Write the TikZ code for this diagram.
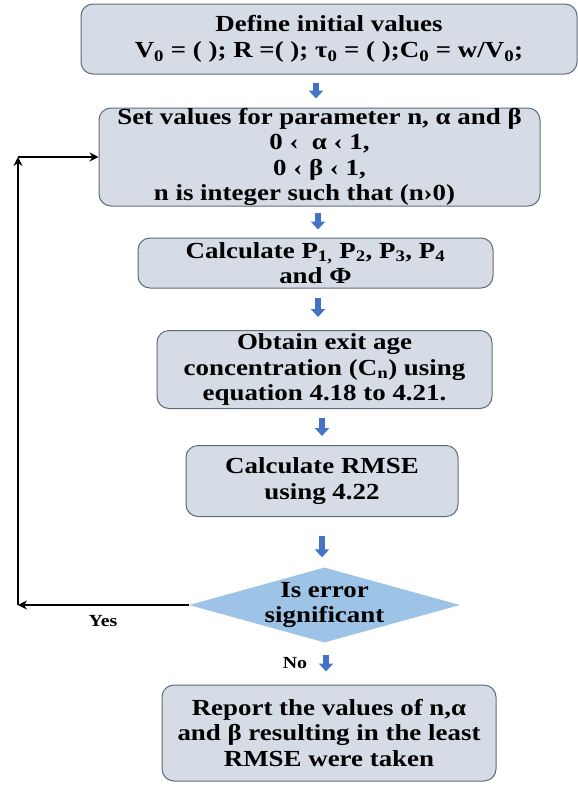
\documentclass[tikz,border=0pt]{standalone}
\usepackage{fontspec}
\setmainfont{Liberation Serif}[FakeStretch=1.17]
\usetikzlibrary{shapes.geometric,arrows.meta,calc}
\definecolor{boxfill}{HTML}{D6DCE5}
\definecolor{boxline}{HTML}{5F6B7A}
\definecolor{dfill}{HTML}{9DC3E6}
\definecolor{barrow}{HTML}{4472C4}
\newcommand{\sbs}[1]{\textsubscript{#1}}
\begin{document}
\begin{tikzpicture}[x=1pt,y=-1pt,
  box/.style={draw=boxline, fill=boxfill, rounded corners=12pt, line width=1pt, align=center, inner sep=0pt, font=\bfseries\fontsize{23}{25.5}\selectfont},
  txt/.style={align=center, inner sep=0pt, font=\bfseries\fontsize{23}{25.5}\selectfont},
  lbl/.style={inner sep=0pt, font=\bfseries\fontsize{17}{19}\selectfont},
  blk/.style={draw=barrow, line width=5.5pt, -{Triangle[width=14pt,length=8pt]}},
  loopline/.style={line width=2.6pt, -{Stealth[length=9pt,width=9pt]}},
]
\useasboundingbox (0,0) rectangle (578,788);
\node[box, minimum width=496pt, minimum height=70pt] (b1) at (329,39)
  {Define initial values\\V\sbs{0} = ( ); R =( ); τ\sbs{0} = ( );C\sbs{0} = w/V\sbs{0};};
\node[box, minimum width=441pt, minimum height=98pt] (b2) at (319.5,157)
  {Set values for parameter n, α and β\\0 ‹~~α~‹ 1,\\0 ‹ β ‹ 1,\\n is integer such that (n›0)\hspace*{30pt}};
\node[box, minimum width=355pt, minimum height=50pt] (b3) at (315.5,263)
  {Calculate P\sbs{1,} P\sbs{2}, P\sbs{3}, P\sbs{4}\\and Φ};
\node[box, minimum width=335pt, minimum height=78pt] (b4) at (324.5,369.5)
  {Obtain exit age\\concentration (C\sbs{n}) using\\equation 4.18 to 4.21.};
\node[box, minimum width=272pt, minimum height=71pt] (b5) at (322,481)
  {Calculate RMSE\\using 4.22};
\node[diamond, fill=dfill, minimum width=271pt, minimum height=75pt, inner sep=0pt] (d) at (324.5,605) {};
\node[txt] (dt) at (d.center) {Is error\\significant};
\node[box, minimum width=334pt, minimum height=96pt] (b6) at (329,733)
  {Report the values of n,α\\and β resulting in the least\\RMSE were taken};
\coordinate (ax1) at (316,0);
\coordinate (ax2) at (318,0);
\coordinate (ax3) at (318,0);
\coordinate (ax4) at (322,0);
\coordinate (ax5) at (322,0);
\coordinate (ax6) at (326,0);
\draw[blk, shorten <=8pt, shorten >=9pt] (b1.south -| ax1) -- (b2.north -| ax1);
\draw[blk, shorten <=6pt, shorten >=8pt] (b2.south -| ax2) -- (b3.north -| ax2);
\draw[blk, shorten <=9pt, shorten >=13pt] (b3.south -| ax3) -- (b4.north -| ax3);
\draw[blk, shorten <=9pt, shorten >=9pt] (b4.south -| ax4) -- (b5.north -| ax4);
\draw[blk, shorten <=19pt, shorten >=10pt] (b5.south -| ax5) -- (d.north -| ax5);
\draw[blk, shorten <=12pt, shorten >=13pt] (d.south -| ax6) -- (b6.north -| ax6);
\coordinate (lx) at (18,0);
\coordinate (lb) at (d.west -| lx);
\coordinate (lt) at (b2.west -| lx);
\draw[loopline] (d.west) -- (lb);
\draw[loopline] (lb) -- (lt);
\draw[loopline] (lt) -- (b2.west);
\node[lbl] (yes) at (103,621) {Yes};
\node[lbl] (no) at (295,663) {No};
\end{tikzpicture}
\end{document}
